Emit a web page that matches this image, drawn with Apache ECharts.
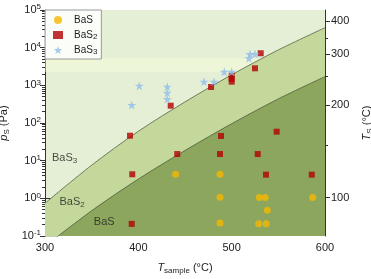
<!DOCTYPE html>
<html><head><meta charset="utf-8">
<script src="https://cdn.jsdelivr.net/npm/echarts@6/dist/echarts.min.js"></script>
<style>html,body{margin:0;padding:0;background:#fff}#c{width:371px;height:279px}</style>
</head><body><div id="c"></div>
<script>
// ---- data ----
const curveT = [300, 350, 400, 450, 500, 550, 600];
const bas3Boundary = [0.741, 7.59, 60.3, 363, 1905, 8710, 33900];   // BaS3 / BaS2 boundary (Pa)
const bas2Boundary = [0.0537, 0.468, 3.24, 18.6, 95.5, 437, 1700];  // BaS2 / BaS boundary (Pa)

const basPoints = [[440,4.35],[487.5,4.35],[487.5,1.07],[487.5,0.22],[529.6,1.05],[536,1.05],[538.2,0.48],[529,0.21],[537,0.21],[586.8,1.05]];
const bas2Points = [[391.1,46],[393.5,4.35],[392.9,0.21],[434.7,288],[441.7,15],[477.9,904],[488.6,45.2],[487.5,15],[500,1800],[500,1500],[500,1250],[525,2830],[531.1,7100],[527.9,15],[536.8,4.25],[548.2,58.8],[585.8,4.25]];
const bas3Points = [[392.9,301],[401,977],[431,920],[431,638],[431,434],[470.4,1250],[481.1,1250],[492.1,2300],[500,2300],[518.6,5220],[519.6,6790],[525,6790]];

const bandRange = [2290, 5250];
const xTicks = [300, 400, 500, 600];
const tsMajorLabels = ['100', '200', '300', '400'];
const tsMajorP = [1.04, 301, 6670, 51000];
const tsMinorP = [26, 1700, 17800];
const regionLabels = [['BaS{s|3}', 321, 11.8], ['BaS{s|2}', 329, 0.8], ['BaS', 363.5, 0.235]];
// ---------------------------------------

const FONT = 'Liberation Sans, Arial, sans-serif';
const starPath = 'path://M50,0 L61,35 L98,35 L68,57 L79,91 L50,70 L21,91 L32,57 L2,35 L39,35 Z';
const lg = v => Math.log10(v);
const minorLeft = [];
for (let e = -1; e < 5; e++) for (let k = 2; k <= 9; k++) minorLeft.push(lg(k * Math.pow(10, e)));
const majorRight = tsMajorP.map(lg);

const subRich = {
  s: { fontSize: 8, lineHeight: 8, verticalAlign: 'bottom', fontFamily: FONT, color: '#222' }
};
const chart = echarts.init(document.getElementById('c'), null, { renderer: 'canvas' });
const axisLineStyle = { show: true, lineStyle: { color: '#333', width: 1 } };

chart.setOption({
  animation: false,
  textStyle: { fontFamily: FONT },
  grid: { left: 45, right: 46, top: 10, bottom: 43, containLabel: false, outerBoundsMode: 'none',
          show: true, backgroundColor: '#e4efd5', borderWidth: 0 },
  legend: {
    left: 45, top: 10, orient: 'vertical', itemGap: 3, itemWidth: 10, itemHeight: 8,
    padding: [4, 4, 3, 8], backgroundColor: 'rgba(255,255,255,0.85)', borderColor: '#999', borderWidth: 1,
    data: ['BaS', 'BaS2', 'BaS3'],
    formatter: n => n === 'BaS' ? 'BaS' : 'BaS{s|' + n.slice(3) + '}',
    textStyle: { fontSize: 10, color: '#222', lineHeight: 12, padding: [0, 0, 0, 6], rich: subRich }
  },
  xAxis: [
    { type: 'value', position: 'bottom', min: 300, max: 600, interval: 100,
      axisLine: axisLineStyle, splitLine: { show: false },
      axisTick: { length: 4, lineStyle: { color: '#333' } },
      minorTick: { show: true, splitNumber: 2, length: 2, lineStyle: { color: '#333' } },
      axisLabel: { fontSize: 11, color: '#222', margin: 6, customValues: xTicks },
      name: '{i|T}{s|sample}{n| (°C)}', nameLocation: 'middle', nameGap: 25,
      nameTextStyle: { fontSize: 11, color: '#222', lineHeight: 14,
        rich: { i: { fontStyle: 'italic', fontSize: 11, color: '#222' }, s: subRich.s, n: { fontSize: 11, color: '#222' } } } },
    { type: 'value', position: 'top', min: 300, max: 600, interval: 100,
      axisLine: axisLineStyle, splitLine: { show: false },
      axisTick: { inside: true, length: 4, lineStyle: { color: '#333' } },
      minorTick: { show: true, splitNumber: 2, length: 2, lineStyle: { color: '#333' } },
      axisLabel: { show: false } }
  ],
  yAxis: [
    { type: 'log', logBase: 10, min: 0.1, max: 100000, position: 'left',
      axisLine: axisLineStyle, splitLine: { show: false },
      axisTick: { length: 5, lineStyle: { color: '#333' } },
      axisLabel: { fontSize: 11, color: '#222', margin: 4,
        formatter: v => '{b|10}{e|' + Math.round(lg(v)) + '}',
        rich: { b: { fontSize: 11, color: '#222', lineHeight: 14 },
                e: { fontSize: 8, lineHeight: 8, verticalAlign: 'top', color: '#222' } } },
      name: '{i|p}{s|S}{n| (Pa)}', nameLocation: 'middle', nameGap: 29, nameRotate: 90,
      nameTextStyle: { fontSize: 11, color: '#222', lineHeight: 14,
        rich: { i: { fontStyle: 'italic', fontSize: 11, color: '#222' }, s: subRich.s, n: { fontSize: 11, color: '#222' } } } },
    { type: 'value', min: -1, max: 5, position: 'left',
      axisLine: { show: false }, splitLine: { show: false }, axisLabel: { show: false },
      axisTick: { length: 3, customValues: minorLeft, lineStyle: { color: '#333' } } },
    { type: 'value', min: -1, max: 5, position: 'right',
      axisLine: axisLineStyle, splitLine: { show: false },
      axisTick: { length: 5, customValues: majorRight, lineStyle: { color: '#333' } },
      axisLabel: { fontSize: 11, color: '#222', margin: 6, customValues: majorRight,
        formatter: v => { let b = 0; majorRight.forEach((m, i) => { if (Math.abs(m - v) < Math.abs(majorRight[b] - v)) b = i; }); return tsMajorLabels[b]; } },
      name: '{i|T}{s|S}{n| (°C)}', nameLocation: 'middle', nameGap: 32, nameRotate: 90,
      nameTextStyle: { fontSize: 11, color: '#222', lineHeight: 14,
        rich: { i: { fontStyle: 'italic', fontSize: 11, color: '#222' }, s: subRich.s, n: { fontSize: 11, color: '#222' } } } },
    { type: 'value', min: -1, max: 5, position: 'right',
      axisLine: { show: false }, splitLine: { show: false }, axisLabel: { show: false },
      axisTick: { length: 3, customValues: tsMinorP.map(lg), lineStyle: { color: '#333' } } }
  ],
  series: [
    { type: 'line', name: 'b3', data: curveT.map((t, i) => [t, bas3Boundary[i]]), smooth: 0.3, symbol: 'none',
      lineStyle: { color: '#6f7d5c', width: 1 }, areaStyle: { color: '#c4d89c', opacity: 1, origin: 'start' },
      z: 1, clip: true, silent: true },
    { type: 'line', name: 'b2', data: curveT.map((t, i) => [t, bas2Boundary[i]]), smooth: 0.3, symbol: 'none',
      lineStyle: { color: '#5f6e48', width: 1 }, areaStyle: { color: '#8da65e', opacity: 1, origin: 'start' },
      z: 2, clip: true, silent: true },
    { type: 'line', name: 'band', data: [], z: 3, silent: true,
      markArea: { silent: true, itemStyle: { color: 'rgba(250,255,220,0.42)' },
        data: [[{ yAxis: bandRange[0] }, { yAxis: bandRange[1] }]] } },
    { type: 'scatter', name: 'region', z: 4, silent: true, symbolSize: 0,
      data: regionLabels.map(r => ({ value: [r[1], r[2]], name: r[0] })),
      label: { show: true, position: 'inside', formatter: '{b}', fontSize: 11, color: '#222', lineHeight: 14, rich: subRich } },
    { type: 'scatter', name: 'BaS', data: basPoints, symbol: 'circle', symbolSize: 7,
      itemStyle: { color: '#f5b800' }, z: 5 },
    { type: 'scatter', name: 'BaS2', data: bas2Points, symbol: 'rect', symbolSize: 6,
      itemStyle: { color: '#b30000' }, z: 5 },
    { type: 'scatter', name: 'BaS3', data: bas3Points, symbol: starPath, symbolSize: 9,
      itemStyle: { color: '#8fbcec' }, z: 5 }
  ]
});
</script></body></html>
